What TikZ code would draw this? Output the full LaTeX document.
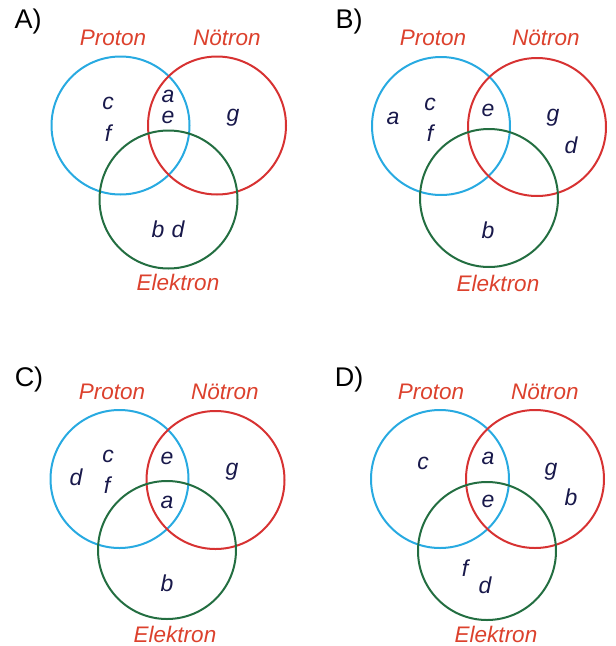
\documentclass[tikz,border=0pt]{standalone}
\usepackage{fontspec}
\setmainfont{Liberation Sans}
\begin{document}
\begin{tikzpicture}[x=1pt,y=-1pt,
  ring/.style={circle,draw,line width=2pt,minimum size=138pt,inner sep=0pt},
  pring/.style={ring,draw={rgb,255:red,40;green,170;blue,225}},
  nring/.style={ring,draw={rgb,255:red,215;green,50;blue,50}},
  ering/.style={ring,draw={rgb,255:red,35;green,110;blue,65}},
  setname/.style={font=\fontsize{22.5}{24}\selectfont\itshape,text={rgb,255:red,220;green,65;blue,45},inner sep=0pt},
  elem/.style={font=\fontsize{23}{24}\selectfont\itshape,text={rgb,255:red,25;green,25;blue,75},inner sep=0pt},
  panel/.style={font=\fontsize{27}{30}\selectfont,inner sep=0pt}]
\useasboundingbox (0,0) rectangle (616,646);
% ---------- A ----------
\node[panel] (A) at (28,22) {A)};
\node[pring] (Ap) at (120.5,125.5) {};
\node[nring] (An) at (217,125.5) {};
\node[ering] (Ae) at (168.5,199.5) {};
\node[setname] (Apl) at (113,38) {Proton};
\node[setname] (Anl) at (227,38) {Nötron};
\node[setname] (Ael) at (178,282) {Elektron};
\node[elem] (Ac) at (108,103) {c};
\node[elem] (Af) at (108,133) {f};
\node[elem] (Aa) at (168,96) {a};
\node[elem] (Ae2) at (168,117) {e};
\node[elem] (Ag) at (233,118) {g};
\node[elem] (Ab) at (158,229) {b};
\node[elem] (Ad) at (178,229) {d};
% ---------- B ----------
\node[panel] (B) at (349,22) {B)};
\node[pring] (Bp) at (441,126) {};
\node[nring] (Bn) at (537,127) {};
\node[ering] (Be) at (489,198) {};
\node[setname] (Bpl) at (433,38) {Proton};
\node[setname] (Bnl) at (546,38) {Nötron};
\node[setname] (Bel) at (498,283) {Elektron};
\node[elem] (Ba) at (393,118) {a};
\node[elem] (Bc) at (430,104) {c};
\node[elem] (Bf) at (430,133) {f};
\node[elem] (Be2) at (488,110) {e};
\node[elem] (Bg) at (553,118) {g};
\node[elem] (Bd) at (571,145) {d};
\node[elem] (Bb) at (488,230) {b};
% ---------- C ----------
\node[panel] (C) at (29,380) {C)};
\node[pring] (Cp) at (119.5,479) {};
\node[nring] (Cn) at (215.5,480) {};
\node[ering] (Ce) at (167,550) {};
\node[setname] (Cpl) at (112,392) {Proton};
\node[setname] (Cnl) at (225,392) {Nötron};
\node[setname] (Cel) at (175,634) {Elektron};
\node[elem] (Cd) at (76,477) {d};
\node[elem] (Cc) at (108,456) {c};
\node[elem] (Cf) at (107,485) {f};
\node[elem] (Ce2) at (167,458) {e};
\node[elem] (Ca) at (167,502) {a};
\node[elem] (Cg) at (232,472) {g};
\node[elem] (Cb) at (167,583) {b};
% ---------- D ----------
\node[panel] (D) at (349,380) {D)};
\node[pring] (Dp) at (440,479) {};
\node[nring] (Dn) at (535,479) {};
\node[ering] (De) at (487,551) {};
\node[setname] (Dpl) at (431,392) {Proton};
\node[setname] (Dnl) at (545,392) {Nötron};
\node[setname] (Del) at (496,634) {Elektron};
\node[elem] (Dc) at (423,463) {c};
\node[elem] (Da) at (488,458) {a};
\node[elem] (De2) at (488,501) {e};
\node[elem] (Dg) at (551,472) {g};
\node[elem] (Db) at (571,497) {b};
\node[elem] (Df) at (465,568) {f};
\node[elem] (Dd) at (485,585) {d};
\end{tikzpicture}
\end{document}
